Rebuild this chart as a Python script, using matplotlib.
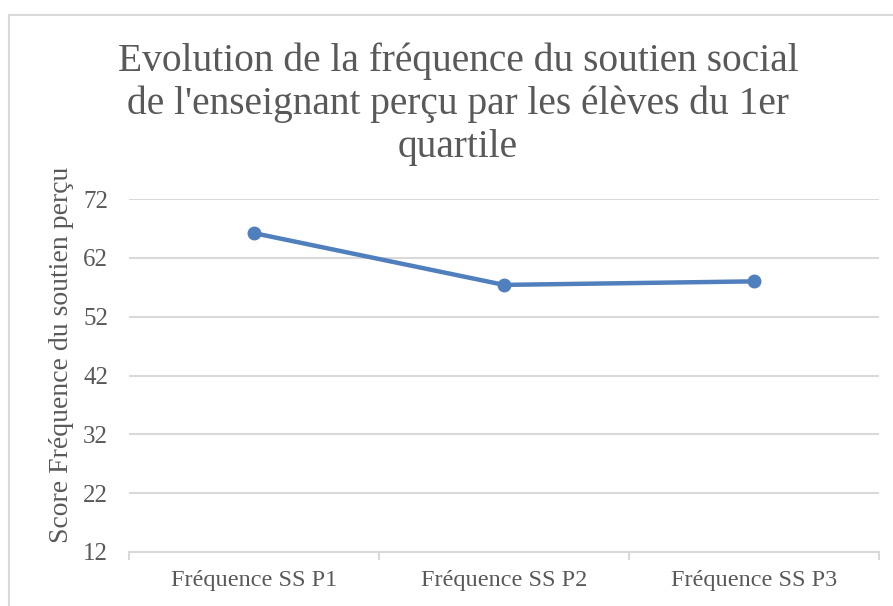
import matplotlib
matplotlib.use('Agg')
import matplotlib.pyplot as plt
from matplotlib.patches import Rectangle

plt.rcParams['font.family'] = ['Liberation Serif', 'DejaVu Serif']

categories = ['Fréquence SS P1', 'Fréquence SS P2', 'Fréquence SS P3']
scores = [66.2, 57.4, 58.0]
yticks = [12, 22, 32, 42, 52, 62, 72]

txt = '#595959'
grid = '#d9d9d9'
blue = '#4f7fbd'

fig = plt.figure(figsize=(8.93, 6.06), dpi=100)
ax = fig.add_axes([129/893, 1-552/606, 750/893, 353/606])

x = list(range(len(categories)))
ax.plot(x, scores, color=blue, linewidth=3.2, marker='o', markersize=9, zorder=3)

ax.set_xlim(-0.5, len(categories) - 0.5)
ax.set_ylim(12, 72)
ax.set_yticks(yticks)
ax.set_xticks(x)
ax.set_xticklabels(categories)
ax.yaxis.grid(True, color=grid, linewidth=1.5)
ax.set_axisbelow(True)
for s in ['top', 'right', 'left']:
    ax.spines[s].set_visible(False)
ax.spines['bottom'].set_color(grid)
ax.spines['bottom'].set_linewidth(1.5)
ax.tick_params(axis='y', length=0, pad=15, labelsize=18, labelcolor=txt)
ax.tick_params(axis='x', length=0, pad=13, labelsize=17.5, labelcolor=txt)
# small tick marks between categories
ax.set_xticks([-0.5, 0.5, 1.5, 2.5], minor=True)
ax.tick_params(axis='x', which='minor', length=6, width=1.5, color=grid, direction='out')

fig.text(62/893, 1-355/606, 'Score Fréquence du soutien perçu', rotation=90,
         ha='center', va='center', fontsize=20, color=txt)

fig.text(458/893, 1-42/606,
         "Evolution de la fréquence du soutien social\nde l'enseignant perçu par les élèves du 1er\nquartile",
         ha='center', va='top', fontsize=28.4, color=txt, linespacing=1.21)

fig.patches.append(Rectangle((9/893, -0.1), 1.1, 1.1 - 15/606, transform=fig.transFigure,
                             fill=False, edgecolor=grid, linewidth=1.5))

fig.savefig('out.png', dpi=100)
